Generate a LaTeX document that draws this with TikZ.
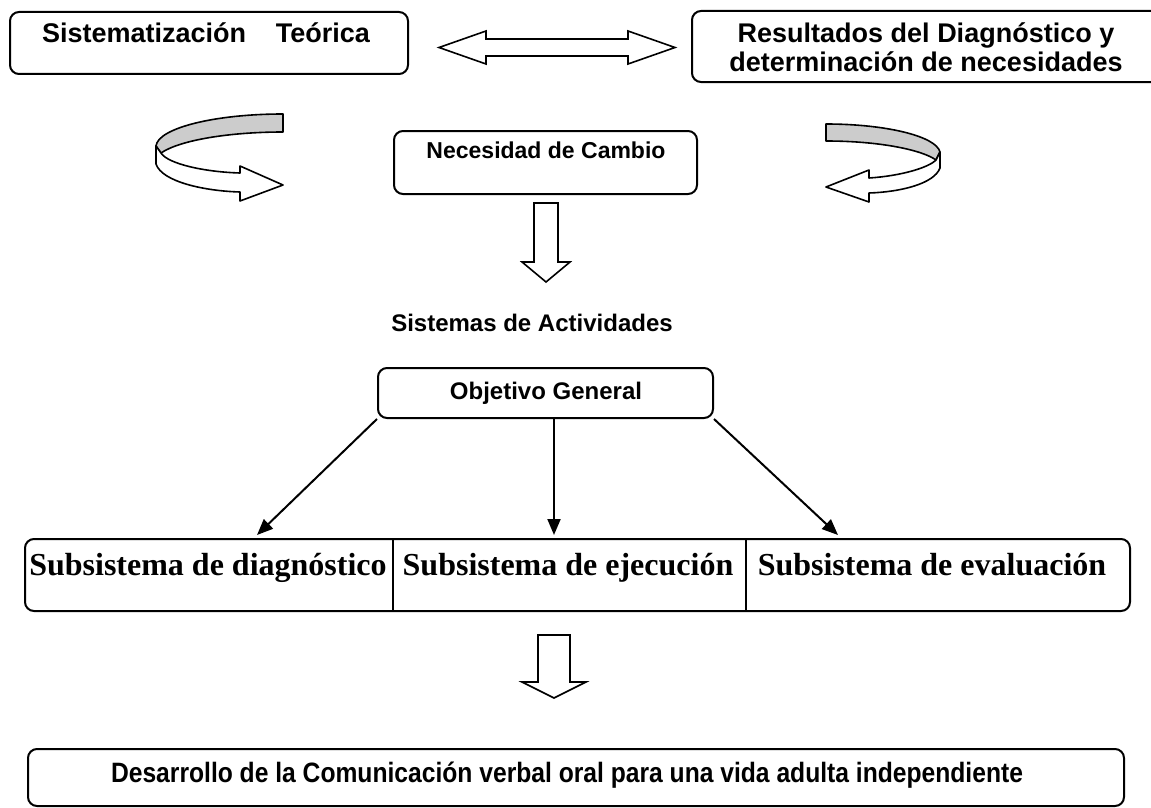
\documentclass[tikz,border=0pt]{standalone}
\usepackage{fontspec}
\usepackage{graphicx}
\setmainfont{Liberation Sans}
\newfontfamily\tnr{Liberation Serif}
\usetikzlibrary{arrows.meta}
\begin{document}
\begin{tikzpicture}[x=1pt,y=-1pt,line width=2pt,
  rbox/.style={draw,rounded corners=9pt,inner sep=0pt},
  sans/.style={font=\bfseries\fontsize{#1}{#1}\selectfont,anchor=base,inner sep=0pt},
  serif/.style={font=\tnr\bfseries\fontsize{32}{32}\selectfont,anchor=base,inner sep=0pt},
  block/.style={draw,fill=white,line width=1.6pt,line join=miter},
  ribbon/.style={draw,line width=1.6pt,line join=round},
  conn/.style={-{Triangle[length=16pt,width=13pt]},line width=2pt}]
\clip (0,0) rectangle (1151,808);
\fill[white] (0,0) rectangle (1151,808);
% top boxes
\node[rbox,minimum width=398pt,minimum height=62pt] (sisbox) at (209,43) {};
\node[sans=27] (sistxt) at (206,43) {Sistematización\hspace{1.1em}Teórica};
\node[rbox,minimum width=468pt,minimum height=71pt] (resbox) at (926,46.5) {};
\node[sans=27] (res1) at (926,43) {Resultados del Diagnóstico y};
\node[sans=27] (res2) at (926,72) {determinación de necesidades};
% double arrow
\draw[block] (439,47.5) -- (486,31) -- (486,39) -- (628,39) -- (628,31) -- (675,47.5)
  -- (628,64) -- (628,56) -- (486,56) -- (486,64) -- cycle;
% left ribbon arrow
\draw[ribbon,fill=gray!40] (283,114) .. controls (215,114) and (158,128) .. (156,146)
  -- (161,153) .. controls (180,140) and (230,132) .. (283,132) -- cycle;
\draw[ribbon,fill=white] (156,146) -- (156,164) .. controls (162,182) and (205,191) .. (240,192)
  -- (240,201) -- (283,185) -- (240,166) -- (240,173)
  .. controls (205,172) and (168,164) .. (161,153) -- cycle;
% right ribbon arrow
\draw[ribbon,fill=gray!40] (826,124) .. controls (885,124) and (936,136) .. (940,152)
  -- (936,160) .. controls (922,150) and (880,141) .. (826,141) -- cycle;
\draw[ribbon,fill=white] (940,152) -- (940,168) .. controls (934,184) and (900,192) .. (869,193)
  -- (869,202) -- (826,187) -- (869,170) -- (869,178)
  .. controls (900,176) and (928,168) .. (936,160) -- cycle;
% necesidad
\node[rbox,minimum width=303pt,minimum height=63pt] (necbox) at (545.5,162.5) {};
\node[sans=23] (nectxt) at (546,158) {Necesidad de Cambio};
% down arrow 1
\draw[block] (534,203) -- (558,203) -- (558,262) -- (570,262) -- (546,282) -- (522,262) -- (534,262) -- cycle;
% sistemas
\node[sans=24] (sist) at (532,331) {Sistemas de Actividades};
\node[rbox,minimum width=335pt,minimum height=50pt] (objbox) at (545.5,393) {};
\node[sans=24] (objtxt) at (546,399) {Objetivo General};
% subsystems
\node[rbox,minimum width=1105pt,minimum height=72pt] (subbox) at (577.5,575) {};
\coordinate (d1) at (393,0);
\coordinate (d2) at (746,0);
\draw (d1 |- subbox.north) -- (d1 |- subbox.south);
\draw (d2 |- subbox.north) -- (d2 |- subbox.south);
\node[serif] (sdiag) at (208,575) {Subsistema de diagnóstico};
\node[serif] (sejec) at (568,575) {Subsistema de ejecución};
\node[serif] (seval) at (932,575) {Subsistema de evaluación};
% connectors
\coordinate (e1) at (257,535);
\coordinate (e2) at (554,535);
\coordinate (e3) at (838,535);
\draw[conn] (objbox.south west) -- (e1);
\draw[conn] (objbox.south -| e2) -- (e2);
\draw[conn] (objbox.south east) -- (e3);
% down arrow 2
\draw[block] (538,635) -- (570,635) -- (570,682) -- (586,682) -- (554,698) -- (522,682) -- (538,682) -- cycle;
% bottom
\node[rbox,minimum width=1096pt,minimum height=57pt] (devbox) at (576,777.5) {};
\node[sans=28] (devtxt) at (567,782) {\scalebox{0.88}[1]{Desarrollo de la Comunicación verbal oral para una vida adulta independiente}};
\end{tikzpicture}
\end{document}
